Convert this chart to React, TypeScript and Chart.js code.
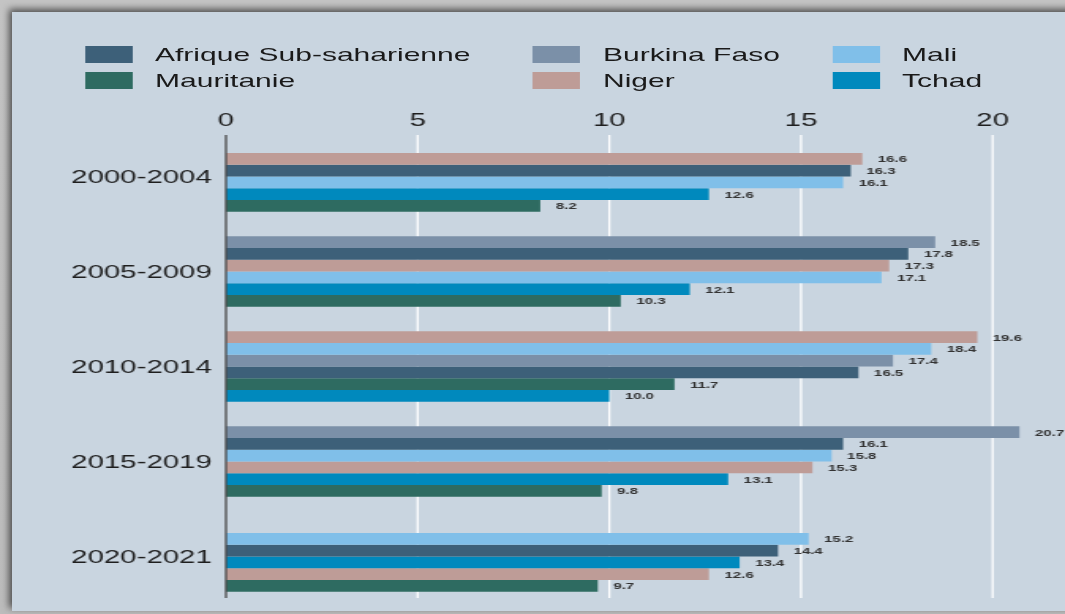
import React, { useEffect, useRef } from "react";
import { Chart, registerables } from "chart.js";

Chart.register(...registerables);

// ---------- data ----------
const periods = ["2000-2004", "2005-2009", "2010-2014", "2015-2019", "2020-2021"];
const seriesNames = ["Afrique Sub-saharienne", "Burkina Faso", "Mali", "Mauritanie", "Niger", "Tchad"];
const seriesColors = ["#3d6079", "#7b90a8", "#80bfe9", "#2e6b61", "#be9c97", "#0089bd"];
const afrique = [16.3, 17.8, 16.5, 16.1, 14.4];
const burkina = [null, 18.5, 17.4, 20.7, null];
const mali = [16.1, 17.1, 18.4, 15.8, 15.2];
const mauritanie = [8.2, 10.3, 11.7, 9.8, 9.7];
const niger = [16.6, 17.3, 19.6, 15.3, 12.6];
const tchad = [12.6, 12.1, 10.0, 13.1, 13.4];
const xTicks = [0, 5, 10, 15, 20];

const allSeries: (number | null)[][] = [afrique, burkina, mali, mauritanie, niger, tchad];

// ---------- layout constants ----------
const STRETCH = 1065 / 674; // the reference picture is horizontally stretched
const LOGICAL_W = 674;
const H = 614;
const FONT = "'Liberation Sans', Arial, Helvetica, sans-serif";

// in each period bars are sorted by value (missing first, then descending)
const orders = periods.map((_, g) =>
  allSeries
    .map((_, i) => i)
    .sort((a, b) => {
      const va = allSeries[a][g];
      const vb = allSeries[b][g];
      if (va == null && vb == null) return 0;
      if (va == null) return -1;
      if (vb == null) return 1;
      return vb - va;
    })
);

function drawGrid(chart: any, zeroOnly: boolean) {
  const ctx = chart.ctx;
  const xs = chart.scales.x;
  const { top, bottom } = chart.chartArea;
  ctx.save();
  ctx.lineWidth = 1.3;
  xs.ticks.forEach((t: any) => {
    if ((t.value === 0) !== zeroOnly) return;
    const px = xs.getPixelForValue(t.value);
    ctx.strokeStyle = t.value === 0 ? "#4a4a4a" : "#ffffff";
    ctx.beginPath();
    ctx.moveTo(px, top + 6);
    ctx.lineTo(px, bottom - 6);
    ctx.stroke();
  });
  ctx.restore();
}

// white vertical grid lines behind the bars, dark zero line above them
const gridLines = {
  id: "gridLines",
  beforeDatasetsDraw(chart: any) {
    drawGrid(chart, false);
  },
  afterDatasetsDraw(chart: any) {
    drawGrid(chart, true);
  },
};

const valueLabels = {
  id: "valueLabels",
  afterDatasetsDraw(chart: any) {
    const ctx = chart.ctx;
    ctx.save();
    ctx.font = `bold 9.5px ${FONT}`;
    ctx.fillStyle = "#333333";
    ctx.textBaseline = "middle";
    ctx.textAlign = "left";
    chart.data.datasets.forEach((ds: any, di: number) => {
      const meta = chart.getDatasetMeta(di);
      meta.data.forEach((bar: any, i: number) => {
        const v = ds.data[i];
        if (v == null) return;
        ctx.fillText(Number(v).toFixed(1), bar.x + 9.8, bar.y + 0.8);
      });
    });
    ctx.restore();
  },
};

function ChartCanvas() {
  const ref = useRef<HTMLCanvasElement | null>(null);
  useEffect(() => {
    if (!ref.current) return;
    const datasets = allSeries.map((_, k) => ({
      label: `rang ${k + 1}`,
      data: periods.map((_, g) => allSeries[orders[g][k]][g]),
      backgroundColor: periods.map((_, g) => seriesColors[orders[g][k]]),
      borderWidth: 0,
    }));
    const chart = new Chart(ref.current, {
      type: "bar",
      data: { labels: periods, datasets: datasets as any },
      options: {
        indexAxis: "y",
        responsive: false,
        animation: false,
        layout: { padding: { top: 112, bottom: 10, left: 0, right: 9.4 } },
        datasets: { bar: { categoryPercentage: 0.742, barPercentage: 1 } } as any,
        plugins: { legend: { display: false }, tooltip: { enabled: false } },
        scales: {
          x: {
            position: "top",
            min: 0,
            max: 21.5,
            afterBuildTicks: (scale: any) => {
              scale.ticks = xTicks.map((v) => ({ value: v }));
            },
            ticks: {
              padding: 0,
              color: "#1e1e1e",
              font: { family: FONT, size: 18.6, lineHeight: 0.914 },
            },
            grid: { display: false, drawTicks: false },
            border: { display: false },
          },
          y: {
            position: "left",
            afterFit: (scale: any) => {
              scale.width = 143;
              scale.paddingTop = 0;
              scale.paddingBottom = 0;
            },
            ticks: {
              padding: 9,
              labelOffset: 1.5,
              color: "#1e1e1e",
              font: { family: FONT, size: 18.6 },
            },
            grid: { display: false, drawTicks: false },
            border: { display: false },
          },
        },
      },
      plugins: [gridLines, valueLabels],
    });
    return () => chart.destroy();
  }, []);
  return <canvas ref={ref} width={LOGICAL_W} height={H} style={{ position: "absolute", left: 0, top: 0 }} />;
}

const legendColX = [53.8, 337.3, 526.6];
const legendRowY = [54.7, 80.5];

export default function App() {
  return (
    <div
      style={{
        position: "fixed",
        left: 0,
        top: 0,
        width: 1065,
        height: H,
        overflow: "hidden",
        background: "linear-gradient(180deg, #c4c4c4 0px, #bcbcbc 100%)",
      }}
    >
      <div
        style={{
          position: "absolute",
          left: 12,
          top: 12,
          width: 1080,
          height: 599,
          background: "#c9d5e0",
          boxShadow: "-3px -3px 7px rgba(0,0,0,0.6)",
        }}
      />
      <div
        style={{
          position: "absolute",
          left: 0,
          top: 0,
          width: LOGICAL_W,
          height: H,
          transform: `scaleX(${STRETCH})`,
          transformOrigin: "0 0",
        }}
      >
        <ChartCanvas />
        {seriesNames.map((name, i) => {
          const col = i % 3;
          const row = Math.floor(i / 3);
          const x = legendColX[col];
          const y = legendRowY[row];
          return (
            <div key={name}>
              <div
                style={{
                  position: "absolute",
                  left: x,
                  top: y - 8.75,
                  width: 30.2,
                  height: 17.5,
                  background: seriesColors[i],
                }}
              />
              <div
                style={{
                  position: "absolute",
                  left: x + 44.3,
                  top: y - 12,
                  height: 24,
                  lineHeight: "24px",
                  fontFamily: FONT,
                  fontSize: 19,
                  color: "#1a1a1a",
                  whiteSpace: "nowrap",
                }}
              >
                {name}
              </div>
            </div>
          );
        })}
      </div>
    </div>
  );
}
